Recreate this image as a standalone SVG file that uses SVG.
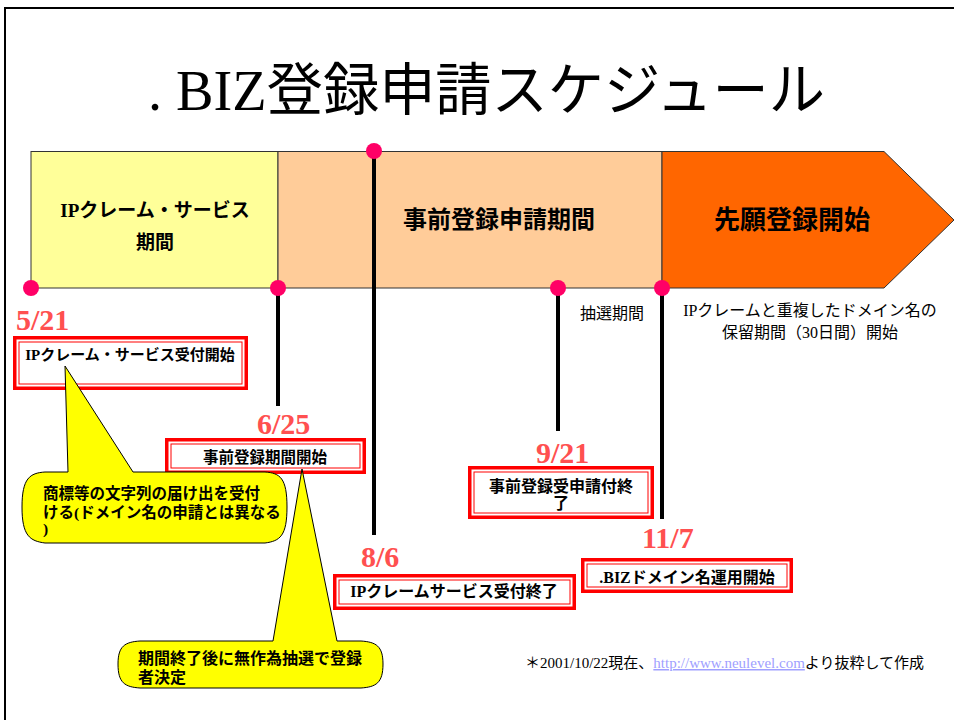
<svg xmlns="http://www.w3.org/2000/svg" width="954" height="720" viewBox="0 0 954 720">
<style>
.jp{font-family:"Liberation Serif","Noto Sans CJK JP",serif}
.b{font-weight:bold}
.date{font-family:"Liberation Serif",serif;font-weight:bold;font-size:30px;fill:#FF5050}
.seg{stroke:#333;stroke-width:1}
.dot{fill:#FF0066}
.vl{stroke:#000;stroke-width:4}
.box{fill:#fff;stroke:#FF0000;stroke-width:3.5}
.boxin{fill:none;stroke:#FF0000;stroke-width:1}
.call{fill:#FFFF00;stroke:#000;stroke-width:1}
</style>
<rect width="954" height="720" fill="#fff"/>
<path d="M5,720 V8 H954" fill="none" stroke="#000" stroke-width="2"/>
<text class="jp" x="148" y="110" font-size="57" textLength="677" lengthAdjust="spacingAndGlyphs">. BIZ登録申請スケジュール</text>

<g id="bar">
<rect id="seg1" class="seg" x="31" y="151.5" width="247" height="136.5" fill="#FFFF99"/>
<rect id="seg2" class="seg" x="278" y="151.5" width="384" height="136.5" fill="#FFCC99"/>
<path id="seg3" class="seg" d="M662,151.5 H884 L954,220 L884,288 H662 Z" fill="#FF6600"/>
<text class="jp b" x="155" y="217" font-size="19" text-anchor="middle">IPクレーム・サービス</text>
<text class="jp b" x="155" y="249" font-size="19" text-anchor="middle">期間</text>
<text class="jp b" x="499" y="228" font-size="24" text-anchor="middle">事前登録申請期間</text>
<text class="jp b" x="792" y="229" font-size="26" text-anchor="middle">先願登録開始</text>
</g>

<g id="connectors">
<line class="vl" x1="278" y1="288" x2="278" y2="406"/>
<line class="vl" x1="374" y1="151" x2="374" y2="535"/>
<line class="vl" x1="558" y1="288" x2="558" y2="431"/>
<line class="vl" x1="662" y1="288" x2="662" y2="519"/>
</g>

<g id="dots">
<circle class="dot" cx="31" cy="288" r="8"/>
<circle class="dot" cx="278" cy="288" r="8"/>
<circle class="dot" cx="374" cy="151" r="8"/>
<circle class="dot" cx="558" cy="288" r="8"/>
<circle class="dot" cx="662" cy="288" r="8"/>
</g>

<g id="notes">
<text class="jp" x="612" y="319" font-size="16" text-anchor="middle">抽選期間</text>
<text class="jp" x="810" y="316" font-size="16" text-anchor="middle">IPクレームと重複したドメイン名の</text>
<text class="jp" x="810" y="338" font-size="16" text-anchor="middle">保留期間（30日間）開始</text>
</g>

<g id="ev521">
<text class="date" x="16" y="330">5/21</text>
<rect class="box" x="14.75" y="337.75" width="231.5" height="50.5"/>
<rect class="boxin" x="19" y="342" width="223" height="42"/>
<text class="jp b" x="130" y="360" font-size="15" text-anchor="middle">IPクレーム・サービス受付開始</text>
</g>

<g id="ev625">
<text class="date" x="257" y="434">6/25</text>
<rect class="box" x="166.75" y="439.75" width="197.5" height="32.5"/>
<rect class="boxin" x="171" y="444" width="189" height="24"/>
<text class="jp b" x="265" y="462.5" font-size="15.5" text-anchor="middle">事前登録期間開始</text>
</g>

<g id="ev806">
<text class="date" x="361" y="567">8/6</text>
<rect class="box" x="334.75" y="575.75" width="239.5" height="32.5"/>
<rect class="boxin" x="339" y="580" width="231" height="24"/>
<text class="jp b" x="454" y="596.5" font-size="16" text-anchor="middle">IPクレームサービス受付終了</text>
</g>

<g id="ev921">
<text class="date" x="536" y="463">9/21</text>
<rect class="box" x="469.75" y="467.75" width="182.5" height="49.5"/>
<rect class="boxin" x="474" y="472" width="174" height="41"/>
<text class="jp b" x="561" y="491.5" font-size="16" text-anchor="middle">事前登録受申請付終</text>
<text class="jp b" x="561" y="508.5" font-size="16" text-anchor="middle">了</text>
</g>

<g id="ev1107">
<text class="date" x="642" y="548">11/7</text>
<rect class="box" x="582.75" y="559.75" width="208.5" height="31.5"/>
<rect class="boxin" x="587" y="564" width="200" height="23"/>
<text class="jp b" x="687" y="582.5" font-size="16" text-anchor="middle">.BIZドメイン名運用開始</text>
</g>

<g id="callout1">
<path class="call" d="M45,472 L68,472 L65,366 L133,472 L265,472 C280,473 287,478 287,507 C287,536 280,541 265,543 L45,543 C30,541 22,536 22,507 C22,478 30,473 45,472 Z"/>
<text class="jp b" x="43" y="498.5" font-size="15.5">商標等の文字列の届け出を受付</text>
<text class="jp b" x="43" y="517.5" font-size="15.5">ける(ドメイン名の申請とは異なる</text>
<text class="jp b" x="43" y="534" font-size="15.5">)</text>
</g>

<g id="callout2">
<path class="call" d="M140,641 L273,641 L302,469 L337,641 L361,641 C376,642 383,646 383,664 C383,683 376,687 361,688 L140,688 C125,687 118,683 118,664 C118,646 125,642 140,641 Z"/>
<text class="jp b" x="138" y="663.5" font-size="16">期間終了後に無作為抽選で登録</text>
<text class="jp b" x="138" y="682.5" font-size="16">者決定</text>
</g>

<g id="footnote">
<text class="jp" x="525" y="668" font-size="15">＊2001/10/22現在、<tspan fill="#A0A0FF" text-decoration="underline">http://www.neulevel.com</tspan>より抜粋して作成</text>
</g>
</svg>
